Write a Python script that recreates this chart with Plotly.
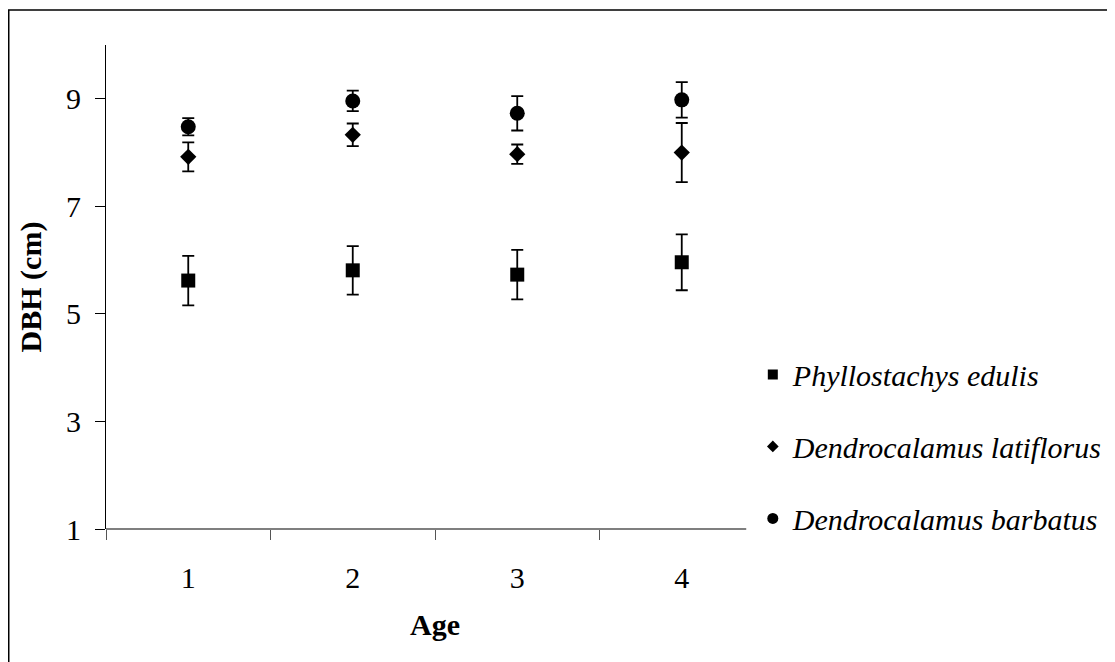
import plotly.graph_objects as go

ages = ["1", "2", "3", "4"]
species = ["Phyllostachys edulis", "Dendrocalamus latiflorus", "Dendrocalamus barbatus"]
dbh_edulis = [5.62, 5.81, 5.73, 5.96]
err_edulis = [0.46, 0.45, 0.46, 0.52]
dbh_latiflorus = [7.92, 8.33, 7.97, 8.00]
err_latiflorus = [0.27, 0.21, 0.18, 0.55]
dbh_barbatus = [8.48, 8.96, 8.73, 8.98]
err_barbatus = [0.16, 0.19, 0.32, 0.33]
y_ticks = [1, 3, 5, 7, 9]
x_boundary_ticks = [0.5, 1.5, 2.5, 3.5]

FONT = "Liberation Serif"
series = [
    (species[0], dbh_edulis, err_edulis, "square", 14, 10),
    (species[1], dbh_latiflorus, err_latiflorus, "diamond", 12.5, 9),
    (species[2], dbh_barbatus, err_barbatus, "circle", 15, 11),
]

fig = go.Figure()
for i, (name, vals, errs, sym, size, lsize) in enumerate(series):
    fig.add_trace(go.Scatter(
        x=ages, y=vals, mode="markers", name=name, showlegend=False,
        marker=dict(symbol=sym, size=size, color="black"),
        error_y=dict(type="data", array=errs, visible=True, color="black",
                     thickness=1.8, width=6),
    ))
for i, (name, vals, errs, sym, size, lsize) in enumerate(series):
    fig.add_trace(go.Scatter(
        x=[None], y=[None], mode="markers", name=name, legendgroup=str(i),
        marker=dict(symbol=sym, size=lsize, color="black"),
    ))
# helper trace for the boundary-tick axis
fig.add_trace(go.Scatter(x=[None], y=[None], xaxis="x2", mode="markers",
                         showlegend=False, hoverinfo="skip"))

# page has an 8px body margin: figure is laid out 8px smaller, shifted by 8px
fig.update_layout(
    width=1107, height=654,
    margin=dict(l=98, r=351, t=37, b=133, autoexpand=False),
    paper_bgcolor="white", plot_bgcolor="white",
    font=dict(family=FONT, size=30, color="black"),
    showlegend=True,
    legend=dict(x=0.983, xanchor="left", y=0.373, yanchor="top",
                font=dict(family=FONT, size=30, style="italic", color="black"),
                tracegroupgap=30, bgcolor="rgba(0,0,0,0)"),
    shapes=[
        dict(type="rect", xref="paper", yref="paper", x0=-0.1478, x1=1.7,
             y0=-0.5, y1=1.0725, line=dict(color="black", width=1.5)),
        dict(type="line", xref="paper", yref="paper", x0=0, x1=0.973,
             y0=0, y1=0, line=dict(color="black", width=1.2)),
    ],
    xaxis2=dict(overlaying="x", anchor="y", side="bottom", range=[0.5, 4.5],
                tickvals=x_boundary_ticks, showticklabels=False,
                ticks="outside", ticklen=10, tickcolor="#555", tickwidth=1,
                showline=False, showgrid=False, zeroline=False),
)
fig.layout.xaxis.update(
    type="category", range=[-0.5, 3.5], ticks="",
    showline=False, showgrid=False, zeroline=False, ticklabelstandoff=28,
    title=dict(text="<b>Age</b>", standoff=20, font=dict(size=30)),
)
fig.update_yaxes(
    range=[1, 10], tickvals=y_ticks, showline=True, linecolor="black", linewidth=1,
    ticks="outside", ticklen=10, tickcolor="black", tickwidth=1,
    showgrid=False, zeroline=False, ticklabelstandoff=8,
    title=dict(text="<b>DBH (cm)</b>", standoff=15, font=dict(size=30)),
)

fig.write_html("out.html")
